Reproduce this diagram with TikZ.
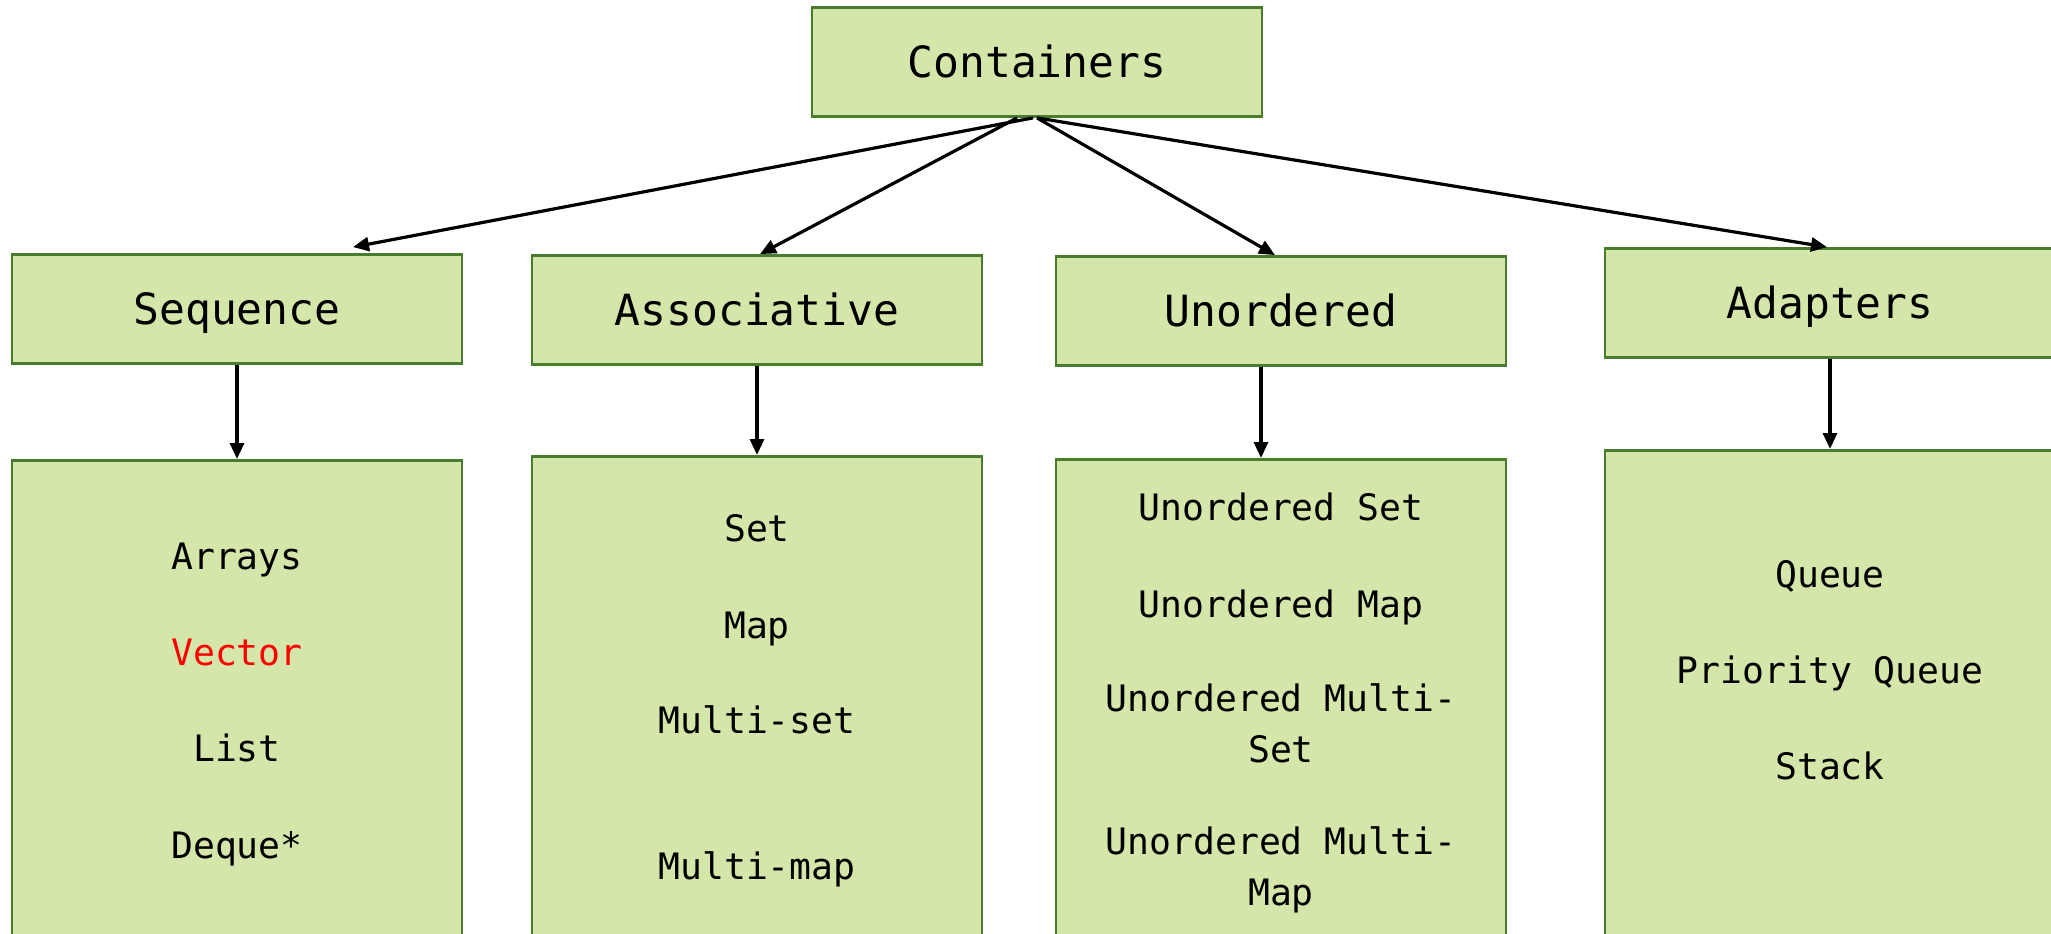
\documentclass[tikz,border=0pt]{standalone}
\usepackage{fontspec}
\setmonofont{DejaVu Sans Mono}
\usetikzlibrary{arrows.meta}
\definecolor{boxfill}{HTML}{D4E6AA}
\definecolor{boxline}{HTML}{487D2E}
\definecolor{hilite}{HTML}{FF0000}
\begin{document}
\begin{tikzpicture}[x=0.5pt,y=-0.5pt,
  box/.style={draw=boxline, fill=boxfill, line width=1.4pt, inner sep=0pt,
    minimum width=225pt},
  head/.style={box, minimum height=54.5pt, text height=15.7pt, text depth=0pt,
    font=\ttfamily\fontsize{21.5}{26}\selectfont},
  listbox/.style={box, minimum height=300pt, anchor=north},
  item/.style={font=\ttfamily\fontsize{18.2}{25.5}\selectfont, align=center,
    inner sep=0pt},
  line/.style={item, text height=13.3pt, text depth=0pt},
  link/.style={-{Triangle[length=8pt,width=7pt]}, line width=1.6pt}]
\clip (0,0) rectangle (2051,933);
\fill[white] (0,0) rectangle (2051,933);

% category boxes
\node[head] (cont)  at (1037,62)  {Containers};
\node[head] (seq)   at (237,309)  {Sequence};
\node[head] (assoc) at (757,310)  {Associative};
\node[head] (unord) at (1281,311) {Unordered};
\node[head] (adapt) at (1830,303) {Adapters};

% member lists
\node[listbox] (seqlist)   at (237,459)  {};
\node[listbox] (assoclist) at (757,455)  {};
\node[listbox] (unordlist) at (1281,458) {};
\node[listbox] (adaptlist) at (1830,449) {};

\node[line] (arrays) at (237,556) {Arrays};
\node[line, text=hilite] (vector) at (237,652) {Vector};
\node[line] (list)   at (237,748) {List};
\node[line] (deque)  at (237,845) {Deque*};

\node[line] (set)      at (757,528) {Set};
\node[line] (map)      at (757,625) {Map};
\node[line] (multiset) at (757,720) {Multi-set};
\node[line] (multimap) at (757,866) {Multi-map};

\node[line] (uset)  at (1281,507) {Unordered Set};
\node[line] (umap)  at (1281,604) {Unordered Map};
\node[item] (umset) at (1281,723) {Unordered Multi-\\Set};
\node[item] (ummap) at (1281,870) {Unordered Multi-\\Map};

\node[line] (queue)  at (1830,574) {Queue};
\node[line] (pqueue) at (1830,670) {Priority Queue};
\node[line] (stack)  at (1830,766) {Stack};

% connectors
\draw[link] ([xshift=-2pt]cont.south) -- ([xshift=58pt,yshift=3pt]seq.north);
\draw[link] ([xshift=-10pt]cont.south) -- ([xshift=1.5pt]assoc.north);
\draw[link] (cont.south) -- ([xshift=-3pt]unord.north);
\draw[link] (cont.south) -- ([xshift=-1.5pt]adapt.north);

\draw[link] (seq.south) -- (seqlist.north);
\draw[link] (assoc.south) -- (assoclist.north);
\draw[link] ([xshift=-10pt]unord.south) -- ([xshift=-10pt]unordlist.north);
\draw[link] (adapt.south) -- (adaptlist.north);
\end{tikzpicture}
\end{document}
